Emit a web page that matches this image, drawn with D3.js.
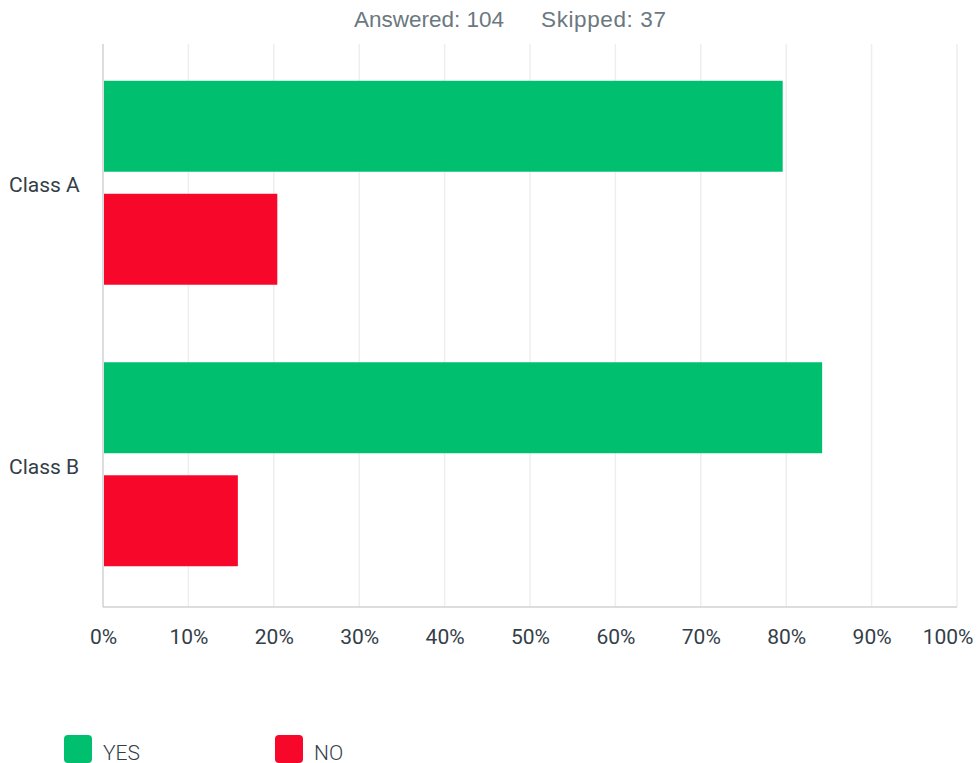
<!DOCTYPE html>
<html><head><meta charset="utf-8">
<script src="https://cdn.jsdelivr.net/npm/d3@7"></script>
<style>body{margin:0;background:#fff;}svg{display:block;}</style>
</head><body>
<script>
const categories = ["Class A", "Class B"];
const seriesNames = ["YES", "NO"];
const yesValues = [79.59, 84.21];
const noValues = [20.41, 15.79];
const xTicks = [0,10,20,30,40,50,60,70,80,90,100];
const colors = ["#00BF6F", "#F7082B"];

const W = 977, H = 763;
const svg = d3.select("body").append("svg").attr("width", W).attr("height", H);
const font = "Roboto, 'Liberation Sans', sans-serif";

const x = d3.scaleLinear().domain([0,100]).range([103, 957]);
const y0 = d3.scaleBand().domain(categories).range([44, 607]).padding(0);
const y1 = d3.scaleBand().domain(seriesNames).range([-2, y0.bandwidth()-2]).paddingInner(0.195).paddingOuter(0.343);

// header
const hdrFont = "'Liberation Sans', Arial, sans-serif";
svg.append("text").attr("x", 354).attr("y", 27)
  .attr("font-family", hdrFont).attr("font-size", 22.5).attr("fill", "#6B787F")
  .text("Answered: 104");
svg.append("text").attr("x", 541).attr("y", 27)
  .attr("font-family", hdrFont).attr("font-size", 22.5).attr("fill", "#6B787F")
  .attr("textLength", 125).attr("lengthAdjust","spacing")
  .text("Skipped: 37");

// gridlines
svg.append("g").selectAll("line").data(xTicks.slice(1)).join("line")
  .attr("x1", d=>x(d)).attr("x2", d=>x(d)).attr("y1", 44).attr("y2", 607)
  .attr("stroke", "#EDEEEE").attr("stroke-width", 1.5);

// axes lines
svg.append("line").attr("x1", x(0)).attr("x2", x(0)).attr("y1", 44).attr("y2", 607).attr("stroke","#D0D2D3").attr("stroke-width",1.5);
svg.append("line").attr("x1", x(0)).attr("x2", x(100)).attr("y1", 607).attr("y2", 607).attr("stroke","#D0D2D3").attr("stroke-width",1.5);

// x axis labels
const xAxis = d3.axisBottom(x).tickValues(xTicks).tickFormat(d=>d+"%").tickSize(0).tickPadding(0);
const gx = svg.append("g").attr("transform","translate(0,629)").call(xAxis);
gx.select(".domain").remove();
gx.selectAll("text").attr("font-family", font).attr("font-size", 21).attr("fill","#333E48").attr("dy","0.71em");
gx.selectAll(".tick").filter(d=>d===100).select("text").attr("text-anchor","end").attr("x", 16);

// bars
const data = categories.map((c,i)=>({cat:c, vals:[{s:"YES", v:yesValues[i]},{s:"NO", v:noValues[i]}]}));
const groups = svg.append("g").selectAll("g").data(data).join("g")
  .attr("transform", d=>`translate(0,${y0(d.cat)})`);
groups.selectAll("rect").data(d=>d.vals).join("rect")
  .attr("x", x(0)+1).attr("y", d=>y1(d.s)).attr("height", y1.bandwidth())
  .attr("width", d=>x(d.v)-x(0)-1).attr("fill", (d,i)=>colors[i]);

// y labels
svg.append("g").selectAll("text").data(categories).join("text")
  .attr("x", 9).attr("y", d=>y0(d)+y0.bandwidth()/2).attr("dy","0.35em")
  .attr("font-family", font).attr("font-size", 21).attr("fill","#333E48").text(d=>d);

// legend
const legX = [64, 275];
const lg = svg.append("g").selectAll("g").data(seriesNames).join("g")
  .attr("transform", (d,i)=>`translate(${legX[i]},735)`);
lg.append("rect").attr("width",28).attr("height",28).attr("rx",4).attr("fill",(d,i)=>colors[i]);
lg.append("text").attr("x",39).attr("y",25).attr("font-family", font).attr("font-weight",300)
  .attr("font-size",21).attr("fill","#333E48").text(d=>d);
</script>
</body></html>
